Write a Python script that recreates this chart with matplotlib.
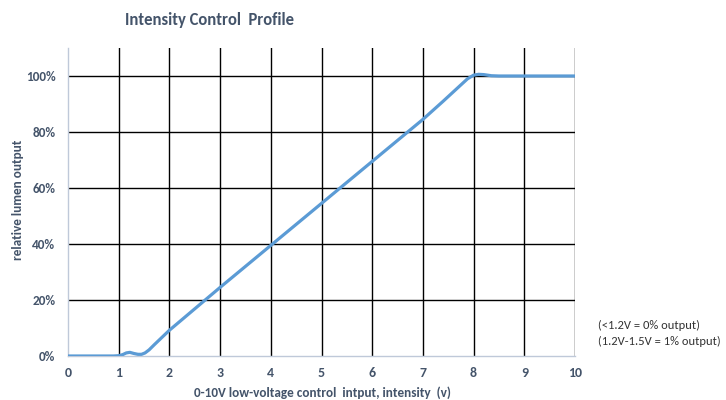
import matplotlib
matplotlib.use("Agg")
import matplotlib.pyplot as plt
from matplotlib.ticker import FuncFormatter

voltage = [0, 0.5, 0.9, 1.0, 1.08, 1.15, 1.22, 1.3, 1.38, 1.45, 1.52, 1.6, 1.7, 1.85, 2.0, 3.0, 4.0, 5.0, 6.0, 7.0,
           7.4, 7.7, 7.88, 8.0, 8.1, 8.2, 8.35, 8.5, 9.0, 10.0]
output = [0, 0, 0, 0.1, 0.5, 1.1, 1.3, 0.9, 0.6, 0.6, 1.1, 2.2, 4.0, 6.6, 9.2, 24.5, 39.5, 54.5, 69.5, 84.5,
          91, 96, 99, 100.3, 100.6, 100.5, 100.1, 100, 100, 100]
x_ticks = list(range(0, 11))
y_ticks = [0, 20, 40, 60, 80, 100]
title = "Intensity Control  Profile"
xlabel = "0-10V low-voltage control  intput, intensity  (v)"
ylabel = "relative lumen output"
notes = ["(<1.2V = 0% output)", "(1.2V-1.5V = 1% output)"]

txt = "#44546A"
F = "Carlito"
fig = plt.figure(figsize=(7.26, 4.0), dpi=100)
ax = fig.add_axes([68/726, 44/400, (575-68)/726, (356-48)/400])
ax.set_xlim(0, 10)
ax.set_ylim(0, 110)
for xv in x_ticks[1:]:
    ax.axvline(xv, color="black", lw=1.0, zorder=1)
for yv in y_ticks[1:]:
    ax.axhline(yv, color="black", lw=1.0, zorder=1)
ax.plot(voltage, output, color="#5B9BD5", lw=2.3, solid_capstyle="round", zorder=3)

for s in ["top", "right"]:
    ax.spines[s].set_visible(False)
for s in ["left", "bottom"]:
    ax.spines[s].set_color("#BFC9D9")
    ax.spines[s].set_linewidth(1.0)
ax.set_xticks(x_ticks)
ax.set_yticks(y_ticks)
ax.yaxis.set_major_formatter(FuncFormatter(lambda v, p: f"{int(v)}%"))
ax.tick_params(length=0, labelcolor=txt)
ax.tick_params(axis="x", pad=8)
ax.tick_params(axis="y", pad=9)
for lab in ax.get_xticklabels():
    lab.set_fontfamily(F); lab.set_fontweight("bold"); lab.set_fontsize(10)
for lab in ax.get_yticklabels():
    lab.set_fontfamily(F); lab.set_fontweight("bold"); lab.set_fontsize(9.5)

fig.text(210/726, 1-20/400, title, ha="center", va="center", fontsize=12, fontweight="bold",
         family=F, color=txt)
fig.text(322/726, 1-393/400, xlabel, ha="center", va="center", fontsize=9.5, fontweight="bold",
         family=F, color=txt)
fig.text(18/726, 1-200/400, ylabel, ha="center", va="center", rotation=90, fontsize=9.5,
         fontweight="bold", family=F, color=txt)
fig.text(598/726, 1-325/400, notes[0], ha="left", va="center", fontsize=9, family=F,
         color="#333333")
fig.text(598/726, 1-341/400, notes[1], ha="left", va="center", fontsize=9, family=F,
         color="#333333")
fig.savefig("out.png", dpi=100)
